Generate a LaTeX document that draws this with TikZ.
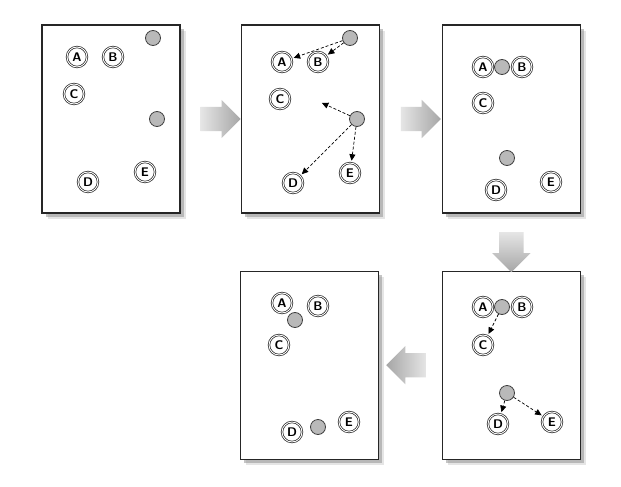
\documentclass[tikz,border=0pt]{standalone}
\usepackage{tikz}
\usetikzlibrary{shapes, shapes.arrows, arrows.meta, positioning, calc, shadows}

\tikzset{
  panel/.style={draw=black!85, line width=1.2pt, fill=white, minimum width=138pt, minimum height=188pt, inner sep=0pt,
    drop shadow={shadow xshift=6pt, shadow yshift=-6pt, fill=black!20},
    drop shadow={shadow xshift=4pt, shadow yshift=-4pt, fill=black!45}},
  pt/.style={circle, draw=black!85, double=white, double distance=0.9pt, line width=0.7pt, fill=white,
    minimum size=20pt, inner sep=0pt, font=\fontsize{12.5}{12.5}\selectfont\sffamily\bfseries},
  ctr/.style={circle, draw=black!75, line width=0.8pt, fill=gray!55, minimum size=15pt, inner sep=0pt},
  move/.style={densely dashed, line width=0.7pt, -{Triangle[length=6.5pt,width=6pt]}, shorten >=2pt},
  flow/.style={single arrow, draw=none, minimum height=40pt, minimum width=38pt, inner sep=12pt,
    single arrow head extend=7pt, single arrow head indent=0pt}
}

\begin{document}
\begin{tikzpicture}[x=1pt, y=-1pt]
\useasboundingbox[fill=white] (0,0) rectangle (621,487);

% the five panels
\node[panel] (p1) at (111,119) {};
\node[panel, right=60pt of p1] (p2) {};
\node[panel, right=62pt of p2] (p3) {};
\node[panel, below=57pt of p3] (p4) {};
\node[panel, left=63pt of p4] (p5) {};

% block arrows between panels
\node[flow, left color=gray!20, right color=gray!70] (f1) at ($(p1.east)!0.5!(p2.west)+(4,0)$) {};
\node[flow, left color=gray!20, right color=gray!70] (f2) at ($(p2.east)!0.5!(p3.west)+(4,0)$) {};
\node[flow, shape border rotate=270, top color=gray!20, bottom color=gray!70] (f3) at ($(p3.south)!0.5!(p4.north)+(0,4)$) {};
\node[flow, shape border rotate=180, left color=gray!70, right color=gray!20] (f4) at ($(p5.east)!0.5!(p4.west)+(2,0)$) {};

% panel 1
\node[pt] (a1) at (77,57) {A};
\node[pt] (b1) at (113,57) {B};
\node[pt] (c1) at (74,94) {C};
\node[pt] (d1) at (88,182) {D};
\node[pt] (e1) at (145,172) {E};
\node[ctr] (m11) at (153,38) {};
\node[ctr] (m12) at (157,119) {};

% panel 2
\node[pt] (a2) at (282,62) {A};
\node[pt] (b2) at (318,62) {B};
\node[pt] (c2) at (280,99) {C};
\node[pt] (d2) at (293,183) {D};
\node[pt] (e2) at (350,173) {E};
\node[ctr] (m21) at (350,38) {};
\node[ctr] (m22) at (357,119) {};
\coordinate (t2) at (320,102);
\draw[move] (m21) -- (a2);
\draw[move] (m21) -- (b2);
\draw[move] (m22) -- (t2);
\draw[move] (m22) -- (d2);
\draw[move] (m22) -- (e2);

% panel 3
\node[pt] (a3) at (483,67) {A};
\node[pt] (b3) at (522,67) {B};
\node[ctr] (m31) at (502,67) {};
\node[pt] (c3) at (483,103) {C};
\node[ctr] (m32) at (507,158) {};
\node[pt] (d3) at (496,190) {D};
\node[pt] (e3) at (551,182) {E};

% panel 4
\node[pt] (a4) at (483,307) {A};
\node[pt] (b4) at (522,307) {B};
\node[ctr] (m41) at (502,307) {};
\node[pt] (c4) at (483,345) {C};
\node[ctr] (m42) at (507,393) {};
\node[pt] (d4) at (498,424) {D};
\node[pt] (e4) at (552,422) {E};
\draw[move] (m41) -- (c4);
\draw[move] (m42) -- (d4);
\draw[move] (m42) -- (e4);

% panel 5
\node[pt] (a5) at (282,303) {A};
\node[pt] (b5) at (318,306) {B};
\node[ctr] (m51) at (295,320) {};
\node[pt] (c5) at (279,345) {C};
\node[pt] (d5) at (292,432) {D};
\node[ctr] (m52) at (318,427) {};
\node[pt] (e5) at (349,422) {E};
\end{tikzpicture}
\end{document}
